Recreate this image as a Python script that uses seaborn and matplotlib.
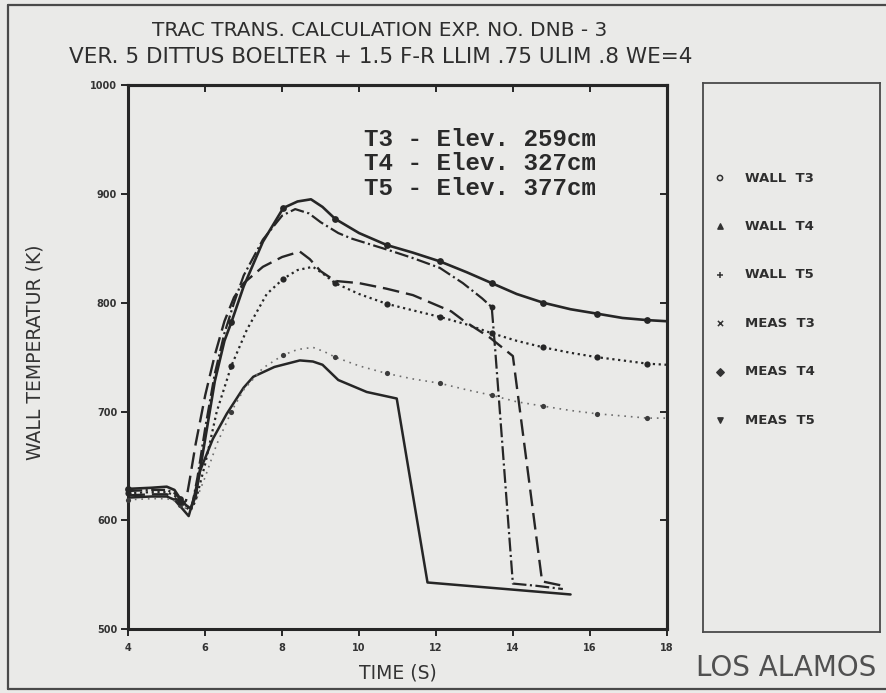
import numpy as np
import matplotlib
matplotlib.use("Agg")
import matplotlib.pyplot as plt
import seaborn as sns
from matplotlib.lines import Line2D

# ---- data: time (s) and wall temperature (K) ----
wall_t3_time = [4.0, 4.6, 5.0, 5.2, 5.35, 5.5, 5.62, 5.75, 6.0, 6.25, 6.5, 6.68,
                7.0, 7.5, 8.03, 8.4, 8.75, 9.05, 9.38, 10.0, 10.72, 11.4, 12.1, 12.8,
                13.45, 14.1, 14.79, 15.5, 16.18, 16.85, 17.5, 18.0]
wall_t3_temp = [629, 630, 631, 628, 620, 614, 611, 622, 675, 728, 765, 782,
                815, 856, 887, 893, 895, 888, 877, 864, 853, 846, 838, 828,
                818, 808, 800, 794, 790, 786, 784, 783]

wall_t4_time = [4.0, 4.6, 5.0, 5.2, 5.35, 5.5, 5.62, 5.75, 6.0, 6.3, 6.68, 7.08,
                7.6, 8.03, 8.4, 8.8, 9.05, 9.38, 10.0, 10.72, 11.4, 12.1, 12.8,
                13.45, 14.1, 14.79, 15.5, 16.18, 16.85, 17.5, 18.0]
wall_t4_temp = [625, 626, 626, 623, 617, 612, 609, 618, 652, 700, 742, 775,
                808, 822, 830, 833, 827, 818, 808, 799, 793, 787, 780,
                772, 765, 759, 754, 750, 747, 744, 743]

wall_t5_time = [4.0, 4.6, 5.0, 5.2, 5.35, 5.5, 5.62, 5.8, 6.0, 6.3, 6.68, 7.0,
                7.5, 8.03, 8.4, 8.8, 9.1, 9.38, 10.0, 10.72, 11.4, 12.1, 12.8,
                13.45, 14.1, 14.79, 15.5, 16.18, 16.85, 17.5, 18.0]
wall_t5_temp = [619, 620, 620, 618, 614, 611, 610, 622, 640, 670, 700, 720,
                740, 752, 757, 759, 755, 750, 742, 735, 730, 726, 720,
                715, 709, 705, 701, 698, 696, 694, 694]

meas_t3_time = [4.0, 4.6, 5.0, 5.2, 5.4, 5.55, 5.65, 5.8, 6.0, 6.25, 6.5, 6.75,
                7.0, 7.5, 8.0, 8.34, 8.7, 9.0, 9.46, 9.8, 10.8, 11.4, 12.1, 12.7,
                13.2, 13.45, 13.54, 14.0, 14.6, 15.3]
meas_t3_temp = [627, 628, 628, 625, 618, 612, 612, 640, 685, 735, 772, 800,
                825, 858, 880, 886, 882, 874, 864, 859, 848, 841, 832, 818,
                804, 796, 757, 542, 540, 537]

meas_t4_time = [4.0, 4.6, 5.0, 5.2, 5.4, 5.5, 5.6, 5.75, 6.0, 6.25, 6.5, 6.75,
                7.0, 7.5, 8.0, 8.46, 8.72, 9.0, 9.38, 10.0, 10.7, 11.4, 12.0,
                12.4, 12.7, 13.4, 14.0, 14.76, 15.3]
meas_t4_temp = [623, 624, 624, 621, 615, 618, 638, 670, 715, 752, 783, 805,
                818, 833, 842, 847, 840, 829, 820, 818, 813, 807, 798,
                792, 784, 768, 751, 544, 540]

meas_t5_time = [4.0, 4.6, 5.0, 5.2, 5.4, 5.57, 5.7, 5.87, 6.2, 6.56, 7.0, 7.25,
                7.8, 8.46, 8.8, 9.05, 9.46, 10.2, 10.98, 11.78, 15.5]
meas_t5_temp = [621, 622, 622, 619, 611, 604, 620, 646, 675, 698, 722, 732,
                741, 747, 746, 743, 729, 718, 712, 543, 532]

# plotted symbol times on the computed traces
symbol_times = [4.0, 5.35, 6.68, 8.03, 9.38, 10.72, 12.1, 13.45, 14.79, 16.18, 17.5]
meas_t3_symbol_times = [13.45]

legend_labels = ["WALL  T3", "WALL  T4", "WALL  T5", "MEAS  T3", "MEAS  T4", "MEAS  T5"]
legend_symbols = ["o", "^", "+", "x", "D", "v"]

x_ticks = [4, 6, 8, 10, 12, 14, 16, 18]
y_ticks = [500, 600, 700, 800, 900, 1000]
elevation_notes = ["T3 - Elev. 259cm", "T4 - Elev. 327cm", "T5 - Elev. 377cm"]

BG = "#eaeae8"
INK = "#262626"
W, H = 886, 693

sns.set_theme(style="ticks")
plt.rcParams["font.family"] = ["DejaVu Sans"]
plt.rcParams["lines.scale_dashes"] = False

fig = plt.figure(figsize=(W / 100, H / 100), dpi=100, facecolor=BG)


def fx(px):
    return px / W


def fy(py):
    return 1 - py / H


ax = fig.add_axes([fx(128.3), fy(629.3), fx(666.7) - fx(128.3), fy(85) - fy(629.3)])
ax.set_facecolor(BG)


def trace(t, temp, dashes, color, lw, marks=None, msize=20, mcolor=None):
    sns.lineplot(x=t, y=temp, ax=ax, color=color, linewidth=lw,
                 estimator=None, sort=False)
    line = ax.lines[-1]
    if dashes is not None:
        line.set_dashes(dashes)
    line.set_solid_capstyle("round")
    if marks:
        t_arr = np.asarray(t)
        y_arr = np.asarray(temp)
        sel = np.isin(t_arr, marks)
        sns.scatterplot(x=t_arr[sel], y=y_arr[sel], ax=ax, marker="o", s=msize,
                        color=mcolor or color, linewidth=0, zorder=4, clip_on=False)


trace(meas_t5_time, meas_t5_temp, None, INK, 1.8)
trace(meas_t4_time, meas_t4_temp, (12, 5), INK, 1.7)
trace(meas_t3_time, meas_t3_temp, (10, 2.5, 1.5, 2.5), INK, 1.6,
      marks=meas_t3_symbol_times, msize=18)
trace(wall_t5_time, wall_t5_temp, (1.2, 3.5), "#6e6e6e", 1.2,
      marks=symbol_times, msize=14, mcolor="#3c3c3c")
trace(wall_t4_time, wall_t4_temp, (1.6, 2.6), INK, 1.6,
      marks=symbol_times, msize=20)
trace(wall_t3_time, wall_t3_temp, None, INK, 1.9,
      marks=symbol_times, msize=24)

ax.set_xlim(4, 18)
ax.set_ylim(500, 1000)
ax.set_xticks(x_ticks)
ax.set_yticks(y_ticks)
ax.set_xticklabels([str(v) for v in x_ticks])
ax.set_yticklabels([str(v) for v in y_ticks])
ax.set_xlabel("")
ax.set_ylabel("")
for s in ax.spines.values():
    s.set_visible(True)
    s.set_linewidth(2.2)
    s.set_color(INK)
ax.tick_params(axis="both", direction="out", length=5, width=1.4, color=INK,
               labelsize=7, labelcolor="#333333")
ax.tick_params(axis="x", pad=5)
ax.tick_params(axis="y", pad=3)
for lab in ax.get_xticklabels() + ax.get_yticklabels():
    lab.set_fontweight("bold")

top = ax.secondary_xaxis("top")
top.set_xticks(x_ticks)
top.tick_params(direction="in", length=5, width=1.4, color=INK, labeltop=False)
top.spines["top"].set_linewidth(2.2)
right = ax.secondary_yaxis("right")
right.set_yticks(y_ticks)
right.tick_params(direction="in", length=5, width=1.4, color=INK, labelright=False)
right.spines["right"].set_linewidth(2.2)

# axis captions
fig.text(fx(35), fy(352), "WALL TEMPERATUR (K)", rotation=90, ha="center",
         va="center", fontsize=13.5, color="#333333")
fig.text(fx(398), fy(673), "TIME (S)", ha="center", va="center",
         fontsize=13.5, color="#333333")

# heading
fig.text(fx(380), fy(31), "TRAC TRANS. CALCULATION EXP. NO. DNB - 3",
         ha="center", va="center", fontsize=14.5, color="#2e2e2e")
fig.text(fx(381), fy(57), "VER. 5 DITTUS BOELTER + 1.5 F-R LLIM .75 ULIM .8 WE=4",
         ha="center", va="center", fontsize=15.5, color="#2e2e2e")

# elevation notes
for i, note in enumerate(elevation_notes):
    fig.text(fx(364), fy(139 + 24.5 * i), note, ha="left", va="center",
             fontsize=17.4, family=["Liberation Mono", "DejaVu Sans Mono"],
             fontweight="bold", color="#2a2a2a")

# symbol key box
lax = fig.add_axes([fx(703), fy(632), fx(880) - fx(703), fy(83) - fy(632)])
lax.set_facecolor(BG)
lax.set_xlim(0, 1)
lax.set_ylim(0, 1)
lax.set_xticks([])
lax.set_yticks([])
for s in lax.spines.values():
    s.set_linewidth(1.3)
    s.set_color("#4a4a4a")
for i, (lab, sym) in enumerate(zip(legend_labels, legend_symbols)):
    ypos = (632 - (178 + 48.4 * i)) / 549
    face = "none" if sym == "o" else "#333333"
    lax.scatter([0.096], [ypos], marker=sym, s=14, facecolors=face,
                edgecolors="#333333", linewidths=1.1)
    lax.text(0.237, ypos, lab, ha="left", va="center", fontsize=9.5,
             fontweight="bold", color="#2e2e2e")

fig.text(fx(786), fy(668), "LOS ALAMOS", ha="center", va="center",
         fontsize=20, color="#505050")

# outer border
for xs, ys in [((8, W), (5, 5)), ((8, 8), (5, 689)), ((8, W), (689, 689))]:
    fig.add_artist(Line2D([fx(v) for v in xs], [fy(v) for v in ys],
                          color="#4a4a4a", linewidth=1.6))

fig.savefig("out.png", dpi=100, facecolor=BG)
